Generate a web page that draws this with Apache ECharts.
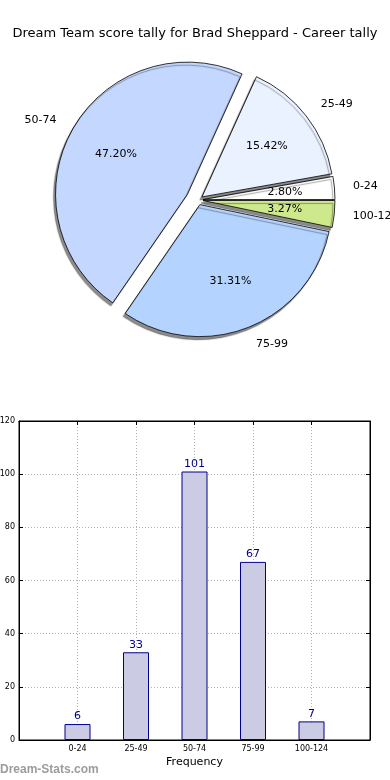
<!DOCTYPE html>
<html><head><meta charset="utf-8">
<script src="https://cdn.jsdelivr.net/npm/echarts@6/dist/echarts.min.js"></script>
<style>html,body{margin:0;padding:0;background:#fff}#c{width:390px;height:780px}</style>
</head><body><div id="c"></div>
<script>
const titleText = 'Dream Team score tally for Brad Sheppard - Career tally';
const categories = ['0-24', '25-49', '50-74', '75-99', '100-124'];
const counts = [6, 33, 101, 67, 7];
const sliceColors = ['#ffffff', '#eaf1ff', '#c4d8ff', '#b4d4ff', '#cde98b'];
const yTicks = [0, 20, 40, 60, 80, 100, 120];
const watermark = 'Dream-Stats.com';
const xName = 'Frequency';

const FONT = 'DejaVu Sans';
const R = 132, C = [198, 200];

function pieSeries(offset, showIdx, mode) {
  return {
    type: 'pie', center: C, radius: mode === 'pct' ? [R * 0.2, R] : [0, R],
    clockwise: false, startAngle: 0, avoidLabelOverlap: false, animation: false,
    selectedMode: 'multiple', selectedOffset: offset, minAngle: 0,
    emphasis: { disabled: true },
    labelLine: { show: false, length: mode === 'name' ? R * 0.14 : 0, length2: 0 },
    z: mode === 'pct' ? 5 : 2,
    data: counts.map((v, i) => {
      const vis = showIdx.includes(i);
      const st = (mode === 'name' && vis) ? {
        color: sliceColors[i], borderColor: '#000', borderWidth: 0.8,
        shadowColor: 'rgba(0,0,0,0.45)', shadowBlur: 1, shadowOffsetX: -2, shadowOffsetY: 3
      } : { color: 'rgba(0,0,0,0)', borderWidth: 0 };
      return {
        value: v, name: categories[i], selected: true,
        itemStyle: st, select: { itemStyle: st },
        label: {
          show: vis, position: mode === 'name' ? 'outside' : 'inside',
          formatter: mode === 'name' ? '{b}' : (p => p.percent.toFixed(2) + '%'),
          color: '#000', fontSize: 11, fontFamily: FONT, distanceToLabelLine: 0,
          overflow: 'none'
        }
      };
    })
  };
}

const others = [0, 1, 3, 4];
const chart = echarts.init(document.getElementById('c'), null, { renderer: 'canvas' });
chart.setOption({
  animation: false,
  backgroundColor: '#fff',
  title: {
    text: titleText, left: 'center', top: 22,
    textStyle: { fontSize: 13, fontWeight: 'normal', color: '#000', fontFamily: FONT }
  },
  graphic: [{
    type: 'text', left: 0, top: 764,
    style: { text: watermark, fill: '#9c9c9c', font: 'bold 12px "Liberation Sans"' }
  }],
  grid: [{ left: 19, top: 421, width: 351, height: 319, show: true, borderColor: '#000', borderWidth: 1,
    containLabel: false, outerBoundsMode: 'none' }],
  xAxis: [{
    type: 'value', gridIndex: 0, min: -1, max: 5, interval: 1,
    axisLabel: { formatter: v => categories[v] || '', fontSize: 8, color: '#000', fontFamily: FONT, margin: 5 },
    axisLine: { onZero: false, lineStyle: { color: '#000' } },
    axisTick: { inside: true, length: 4, lineStyle: { color: '#000' } },
    splitLine: { show: true, lineStyle: { color: '#b0b0b0', type: [1, 2] } },
    name: xName, nameLocation: 'middle', nameGap: 17,
    nameTextStyle: { fontSize: 11, color: '#000', fontFamily: FONT }
  }, {
    type: 'value', gridIndex: 0, position: 'top', min: -1, max: 5, interval: 1,
    axisLabel: { show: false }, axisLine: { onZero: false, lineStyle: { color: '#000' } },
    axisTick: { inside: true, length: 4, lineStyle: { color: '#000' } }, splitLine: { show: false }
  }],
  yAxis: [{
    type: 'value', gridIndex: 0, min: yTicks[0], max: yTicks[yTicks.length - 1], interval: yTicks[1] - yTicks[0],
    axisLabel: { fontSize: 8, color: '#000', fontFamily: FONT, margin: 4 },
    axisLine: { show: true, onZero: false, lineStyle: { color: '#000' } },
    axisTick: { show: true, inside: true, length: 4, lineStyle: { color: '#000' } },
    splitLine: { show: true, lineStyle: { color: '#b0b0b0', type: [1, 2] } }
  }, {
    type: 'value', gridIndex: 0, position: 'right', min: yTicks[0], max: yTicks[yTicks.length - 1], interval: yTicks[1] - yTicks[0],
    axisLabel: { show: false }, axisLine: { show: true, onZero: false, lineStyle: { color: '#000' } },
    axisTick: { show: true, inside: true, length: 4, lineStyle: { color: '#000' } }, splitLine: { show: false }
  }],
  series: [
    pieSeries(5, others, 'name'),
    pieSeries(12, [2], 'name'),
    pieSeries(5, others, 'pct'),
    pieSeries(12, [2], 'pct'),
    {
      type: 'bar', xAxisIndex: 0, yAxisIndex: 0, barWidth: 26,
      data: counts.map((v, i) => [i, v]),
      itemStyle: { color: '#cbcbe3', borderColor: '#00008b', borderWidth: 1 },
      label: { show: true, position: 'top', distance: 2, color: '#00008b', fontSize: 11, fontFamily: FONT }
    }
  ]
});
</script></body></html>
